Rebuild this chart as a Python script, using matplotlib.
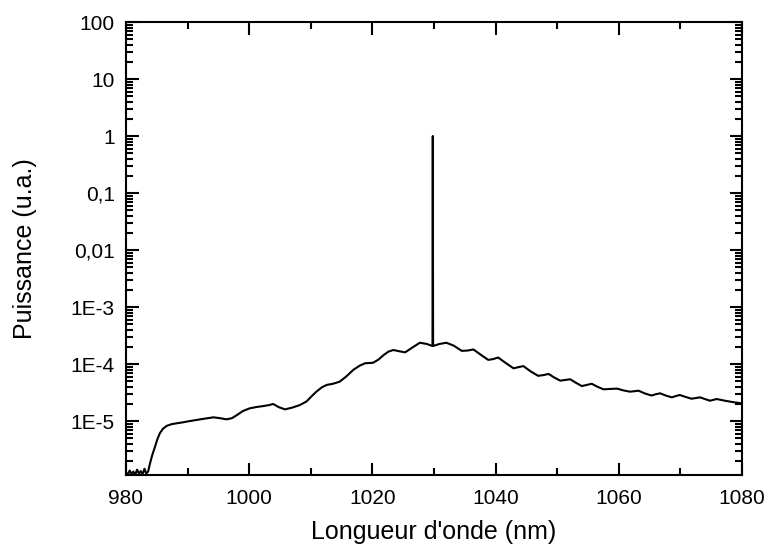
import numpy as np
import matplotlib.pyplot as plt
from matplotlib.ticker import FixedLocator, FixedFormatter, LogLocator, MultipleLocator

plt.rcParams['font.family'] = ['Liberation Sans', 'DejaVu Sans']

# spectre (nm, u.a.)
wavelength = [980.0, 980.3, 980.6, 980.9, 981.2, 981.5, 981.8, 982.1, 982.4, 982.7,
              983.0, 983.3, 983.6, 983.9, 984.3, 984.7, 985.1, 985.5, 986.0, 986.6,
              987.4, 988.2, 989.3, 990.4, 992.3, 994.2, 995.3, 996.3, 997.2, 998.0,
              999.0, 1000.1, 1001.2, 1002.3, 1003.2, 1003.9, 1004.8, 1005.8, 1007.0,
              1008.2, 1009.3, 1010.1, 1010.9, 1011.8, 1012.6, 1013.6, 1014.7, 1015.8,
              1016.9, 1017.9, 1018.8, 1020.1, 1021.0, 1021.8, 1022.6, 1023.4, 1024.3,
              1025.3, 1026.5, 1027.7, 1028.8, 1029.75, 1029.8, 1029.85, 1030.9, 1032.0,
              1033.2, 1034.5, 1035.4, 1036.4, 1037.6, 1038.8, 1039.6, 1040.4, 1041.6,
              1042.9, 1043.7, 1044.5, 1045.7, 1046.9, 1047.8, 1048.6, 1049.5, 1050.5,
              1051.3, 1052.1, 1053.0, 1054.0, 1054.8, 1055.6, 1056.5, 1057.5, 1058.6,
              1059.7, 1060.7, 1061.8, 1062.5, 1063.2, 1064.2, 1065.3, 1066.0, 1066.7,
              1067.6, 1068.6, 1069.3, 1069.9, 1070.8, 1071.8, 1072.5, 1073.2, 1074.0,
              1074.8, 1075.4, 1075.9, 1076.7, 1077.5, 1078.8, 1080.0]
power = [1.25e-6, 1.15e-6, 1.35e-6, 1.18e-6, 1.3e-6, 1.14e-6, 1.4e-6, 1.2e-6, 1.32e-6, 1.16e-6,
         1.45e-6, 1.2e-6, 1.3e-6, 1.8e-6, 2.6e-6, 3.5e-6, 4.8e-6, 6.1e-6, 7.3e-6, 8.2e-6,
         8.8e-6, 9.1e-6, 9.5e-6, 1.0e-5, 1.08e-5, 1.16e-5, 1.12e-5, 1.07e-5, 1.12e-5, 1.27e-5,
         1.5e-5, 1.67e-5, 1.76e-5, 1.83e-5, 1.9e-5, 1.99e-5, 1.75e-5, 1.6e-5, 1.72e-5,
         1.9e-5, 2.2e-5, 2.7e-5, 3.27e-5, 3.9e-5, 4.3e-5, 4.5e-5, 4.9e-5, 6.1e-5,
         7.9e-5, 9.3e-5, 1.03e-4, 1.05e-4, 1.2e-4, 1.43e-4, 1.65e-4, 1.76e-4, 1.68e-4,
         1.6e-4, 1.95e-4, 2.36e-4, 2.25e-4, 2.07e-4, 1.0, 2.07e-4, 2.25e-4, 2.36e-4,
         2.1e-4, 1.7e-4, 1.72e-4, 1.8e-4, 1.45e-4, 1.18e-4, 1.22e-4, 1.3e-4, 1.05e-4,
         8.4e-5, 8.8e-5, 9.2e-5, 7.4e-5, 6.2e-5, 6.4e-5, 6.7e-5, 5.8e-5, 5.1e-5,
         5.25e-5, 5.4e-5, 4.7e-5, 4.1e-5, 4.3e-5, 4.5e-5, 4.0e-5, 3.6e-5, 3.65e-5,
         3.7e-5, 3.45e-5, 3.27e-5, 3.33e-5, 3.4e-5, 3.05e-5, 2.8e-5, 2.95e-5, 3.06e-5,
         2.8e-5, 2.6e-5, 2.75e-5, 2.86e-5, 2.65e-5, 2.46e-5, 2.53e-5, 2.6e-5, 2.42e-5,
         2.27e-5, 2.36e-5, 2.43e-5, 2.33e-5, 2.24e-5, 2.12e-5, 2.04e-5]

ytick_values = [100, 10, 1, 0.1, 0.01, 1e-3, 1e-4, 1e-5]
ytick_labels = ['100', '10', '1', '0,1', '0,01', '1E-3', '1E-4', '1E-5']
xtick_values = [980, 1000, 1020, 1040, 1060, 1080]

fig = plt.figure(figsize=(7.69, 5.5), dpi=100)
ax = fig.add_axes([0.1638, 0.1364, 0.8012, 0.8236])

ax.plot(wavelength, power, color='black', linewidth=1.5)

ax.set_yscale('log')
ax.set_xlim(980, 1080)
ax.set_ylim(1.13e-6, 100)

ax.xaxis.set_major_locator(FixedLocator(xtick_values))
ax.xaxis.set_minor_locator(MultipleLocator(10))
ax.yaxis.set_major_locator(FixedLocator(ytick_values))
ax.yaxis.set_major_formatter(FixedFormatter(ytick_labels))
ax.yaxis.set_minor_locator(LogLocator(base=10, subs=np.arange(2, 10), numticks=20))
ax.yaxis.set_minor_formatter(FixedFormatter([]))

ax.tick_params(which='both', direction='in', top=True, right=True, width=1.5,
               labelsize=15)
ax.tick_params(axis='x', pad=10)
ax.tick_params(axis='y', pad=8)
ax.tick_params(which='major', length=9)
ax.tick_params(which='minor', length=5)
for s in ax.spines.values():
    s.set_linewidth(1.5)

ax.set_xlabel("Longueur d'onde (nm)", fontsize=18, labelpad=9)
ax.set_ylabel("Puissance (u.a.)", fontsize=18, labelpad=24)

fig.savefig('out.png', dpi=100)
